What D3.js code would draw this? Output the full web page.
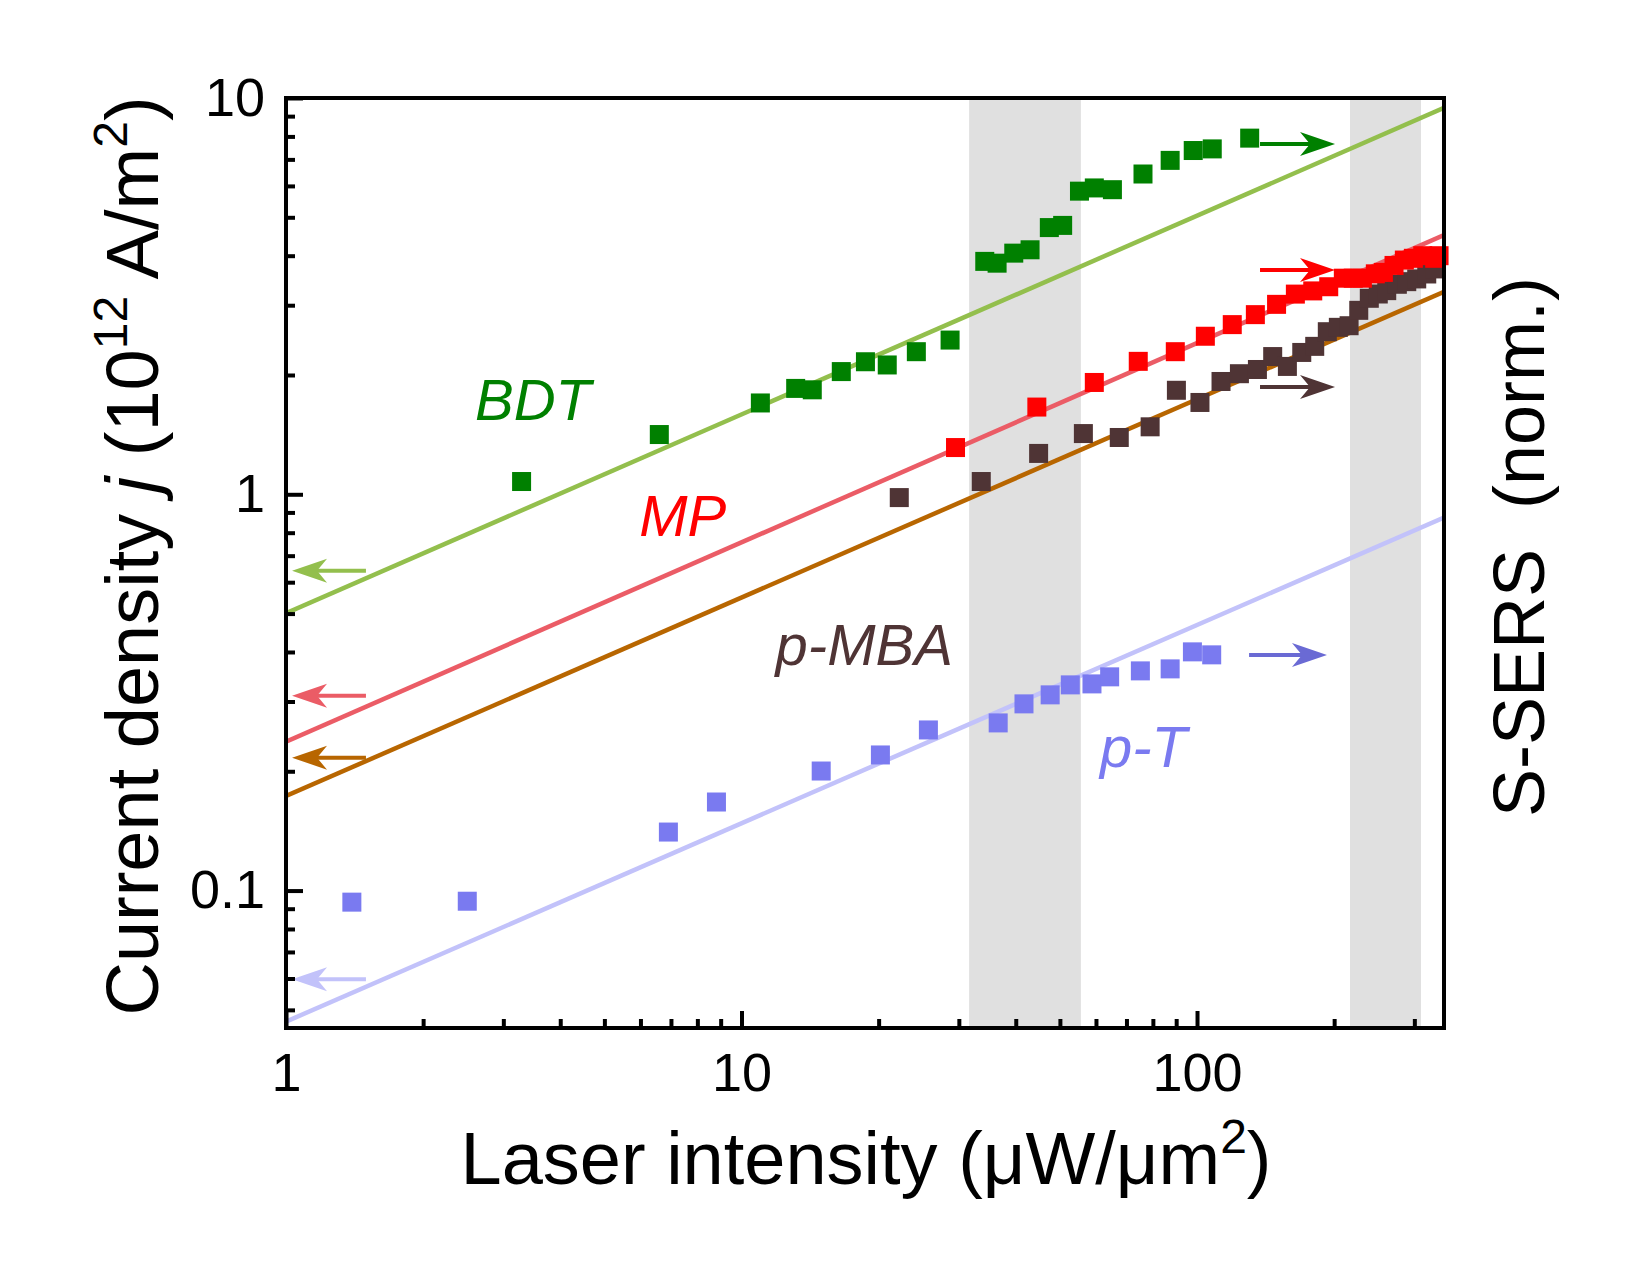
<!DOCTYPE html>
<html><head><meta charset="utf-8">
<script src="https://cdn.jsdelivr.net/npm/d3@7"></script>
<style>
body{margin:0;background:#fff;}
svg{display:block;}
text{font-family:"Liberation Sans", Arial, Helvetica, sans-serif;}
</style>
</head><body>
<svg id="chart" width="1641" height="1269"></svg>
<script>
// ---------------- DATA ----------------
const seriesNames = ["BDT", "MP", "p-MBA", "p-T"];

const bdtX = [3.29, 6.60, 11.0, 13.15, 14.3, 16.56, 18.71, 20.89, 24.2, 28.7, 34.2, 36.4, 39.6, 43.0, 47.4, 50.7, 55.2, 59.5, 65.2, 76.1, 87.3, 98.1, 108.0, 130.5];
const bdtY = [1.077, 1.415, 1.70, 1.85, 1.835, 2.04, 2.16, 2.12, 2.29, 2.45, 3.87, 3.83, 4.06, 4.14, 4.71, 4.77, 5.82, 5.93, 5.87, 6.43, 6.96, 7.37, 7.44, 7.92];

const mpX = [29.5, 44.5, 59.5, 74.3, 89.6, 104.3, 119.5, 134.3, 149.5, 164.4, 179.5, 194.6, 209.5, 220.3, 230.7, 246.3, 256.5, 270.7, 285.2, 298.5, 313.0, 332.5, 339.9];
const mpY = [1.312, 1.66, 1.915, 2.165, 2.29, 2.505, 2.68, 2.84, 3.015, 3.20, 3.26, 3.34, 3.51, 3.51, 3.51, 3.60, 3.63, 3.78, 3.90, 3.94, 4.00, 3.94, 4.00];

const mbaX = [22.2, 33.6, 44.9, 56.3, 67.5, 78.9, 90.1, 101.5, 112.9, 123.9, 135.7, 146.6, 157.9, 169.8, 181.3, 193.2, 204.3, 215.7, 226.5, 238.9, 250.0, 260.9, 275.3, 288.7, 303.6, 319.4, 333.1];
const mbaY = [0.981, 1.077, 1.268, 1.423, 1.391, 1.48, 1.83, 1.705, 1.926, 2.015, 2.065, 2.226, 2.102, 2.28, 2.362, 2.572, 2.638, 2.663, 2.912, 3.123, 3.202, 3.265, 3.388, 3.44, 3.495, 3.597, 3.704];

const ptX = [1.395, 2.50, 6.91, 8.81, 14.96, 20.18, 25.72, 36.6, 41.7, 47.6, 52.7, 58.8, 64.3, 75.1, 87.3, 97.7, 107.7];
const ptY = [0.0935, 0.0940, 0.1405, 0.1673, 0.2003, 0.2199, 0.2543, 0.2649, 0.2959, 0.3118, 0.3304, 0.3323, 0.3462, 0.3584, 0.3626, 0.4003, 0.3934];

// fit lines (end points read at the frame edges)
const fitX = [1, 348.5];
const bdtFit = [0.501, 9.44];
const mpFit = [0.2375, 4.51];
const mbaFit = [0.1733, 3.245];
const ptFit = [0.0467, 0.874];

// shaded intensity bands
const bandStart = [31.6, 216.7];
const bandEnd = [55.6, 310.2];

// axis ticks
const xTickValues = [1, 10, 100];
const xTickLabels = ["1", "10", "100"];
const xMinorTicks = [2,3,4,5,6,7,8,9,20,30,40,50,60,70,80,90,200,300];
const yTickValues = [0.1, 1, 10];
const yTickLabels = ["0.1", "1", "10"];
const yMinorTicks = [0.05,0.06,0.07,0.08,0.09,0.2,0.3,0.4,0.5,0.6,0.7,0.8,0.9,2,3,4,5,6,7,8,9];

// annotation arrows (left: fit-line axis, right: S-SERS axis)
const leftArrowTail = 1.498, leftArrowTip = 1.031;
const leftArrowY = [0.641, 0.310, 0.2164, 0.0597];
const rightArrowTail = [137.5, 137.5, 137.5, 130.1];
const rightArrowTip = [200.9, 200.9, 200.9, 192.9];
const rightArrowY = [7.65, 3.68, 1.866, 0.393];

// series labels
const labelX = [2.60, 5.965, 11.88, 61.2];
const labelY = [1.54, 0.786, 0.371, 0.205];

// ---------------- STYLES ----------------
const pointColor = ["#008000", "#ff0000", "#4f3435", "#7a7af0"];
const lineColor = ["#93bf4d", "#eb5c66", "#b86600", "#c2c2fa"];
const rightArrowColor = ["#008000", "#ff0000", "#4f3435", "#6a6ad4"];

// ---------------- CHART ----------------
const svg = d3.select("#chart");
const L = 286, R = 1444, T = 98, B = 1028;
const x = d3.scaleLog().domain([1, 348.5]).range([L, R]);
const y = d3.scaleLog().domain([0.045, 10]).range([B, T]);

svg.append("rect").attr("width", 1641).attr("height", 1269).attr("fill", "#fff");

// bands
svg.append("g").selectAll("rect").data(d3.range(bandStart.length)).join("rect")
  .attr("x", i => x(bandStart[i]))
  .attr("width", i => x(bandEnd[i]) - x(bandStart[i]))
  .attr("y", T + 2).attr("height", B - T - 4)
  .attr("fill", "#e0e0e0");

// clip
svg.append("clipPath").attr("id", "clip").append("rect")
  .attr("x", L).attr("y", T).attr("width", R - L).attr("height", B - T);

// fit lines
const fits = [bdtFit, mpFit, mbaFit, ptFit];
const lineGen = d3.line().x(d => x(d[0])).y(d => y(d[1]));
const gl = svg.append("g").attr("clip-path", "url(#clip)");
fits.forEach((f, i) => {
  gl.append("path").datum(fitX.map((v, k) => [v, f[k]]))
    .attr("d", lineGen).attr("fill", "none")
    .attr("stroke", lineColor[i]).attr("stroke-width", 4.5);
});

// points (p-MBA under MP)
const S = 19;
const series = [[bdtX, bdtY, 0], [mbaX, mbaY, 2], [mpX, mpY, 1], [ptX, ptY, 3]];
series.forEach(([xs, ys, ci]) => {
  svg.append("g").selectAll("rect").data(xs.map((v, k) => [v, ys[k]])).join("rect")
    .attr("x", d => x(d[0]) - S / 2).attr("y", d => y(d[1]) - S / 2)
    .attr("width", S).attr("height", S)
    .attr("fill", pointColor[ci]);
});

// arrows
function arrow(x1, y1, x2, y2, color) {
  const dir = Math.sign(x2 - x1);
  const g = svg.append("g");
  g.append("line").attr("x1", x1).attr("y1", y1).attr("x2", x2 - dir * 22).attr("y2", y2)
    .attr("stroke", color).attr("stroke-width", 4);
  g.append("path")
    .attr("d", `M${x2},${y2} L${x2 - dir * 35},${y2 - 12} L${x2 - dir * 25},${y2} L${x2 - dir * 35},${y2 + 12} Z`)
    .attr("fill", color);
}
leftArrowY.forEach((v, i) => arrow(x(leftArrowTail), y(v), x(leftArrowTip), y(v), lineColor[i]));
rightArrowY.forEach((v, i) => arrow(x(rightArrowTail[i]), y(v), x(rightArrowTip[i]), y(v), rightArrowColor[i]));

// series labels
seriesNames.forEach((n, i) => {
  svg.append("text").attr("x", x(labelX[i])).attr("y", y(labelY[i]))
    .attr("font-size", 58).attr("font-style", "italic")
    .attr("fill", pointColor[i]).text(n);
});

// axes
const fs = 54;
const xAxis = svg.append("g").attr("transform", `translate(0,${B})`)
  .call(d3.axisBottom(x).tickValues(xTickValues).tickFormat((d, i) => xTickLabels[i]).tickSizeInner(-17).tickSizeOuter(0).tickPadding(25));
const xMinor = svg.append("g").attr("transform", `translate(0,${B})`)
  .call(d3.axisBottom(x).tickValues(xMinorTicks).tickFormat("").tickSizeInner(-9).tickSizeOuter(0));
const yAxis = svg.append("g").attr("transform", `translate(${L},0)`)
  .call(d3.axisLeft(y).tickValues(yTickValues).tickFormat((d, i) => yTickLabels[i]).tickSizeInner(-17).tickSizeOuter(0).tickPadding(21));
const yMinor = svg.append("g").attr("transform", `translate(${L},0)`)
  .call(d3.axisLeft(y).tickValues(yMinorTicks).tickFormat("").tickSizeInner(-9).tickSizeOuter(0));
[xAxis, xMinor, yAxis, yMinor].forEach(a => {
  a.select(".domain").remove();
  a.selectAll(".tick line").attr("stroke", "#000").attr("stroke-width", 4);
  a.selectAll(".tick text").attr("font-size", fs).attr("fill", "#000")
    .attr("font-family", '"Liberation Sans", Arial, sans-serif');
});

// frame
svg.append("rect").attr("x", L).attr("y", T).attr("width", R - L).attr("height", B - T)
  .attr("fill", "none").attr("stroke", "#000").attr("stroke-width", 4);

// axis titles
const xt = svg.append("text").attr("x", 866).attr("y", 1184).attr("text-anchor", "middle")
  .attr("font-size", 74).attr("fill", "#000");
xt.append("tspan").text("Laser intensity (\u03bcW/\u03bcm");
xt.append("tspan").attr("font-size", 48).attr("dy", -31).text("2");
xt.append("tspan").attr("dy", 31).text(")");

const yt = svg.append("text").attr("transform", "translate(158,556) rotate(-90)")
  .attr("text-anchor", "middle").attr("font-size", 74).attr("fill", "#000");
yt.append("tspan").text("Current density ");
yt.append("tspan").attr("font-style", "italic").text("j");
yt.append("tspan").text(" (10");
yt.append("tspan").attr("font-size", 48).attr("dy", -31).text("12");
yt.append("tspan").attr("dy", 31).text(" A/m");
yt.append("tspan").attr("font-size", 48).attr("dy", -31).text("2");
yt.append("tspan").attr("dy", 31).text(")");

svg.append("text").attr("transform", "translate(1544,547) rotate(-90)")
  .attr("text-anchor", "middle").attr("font-size", 72).attr("fill", "#000")
  .style("white-space", "pre").text("S-SERS  (norm.)");
</script>
</body></html>
